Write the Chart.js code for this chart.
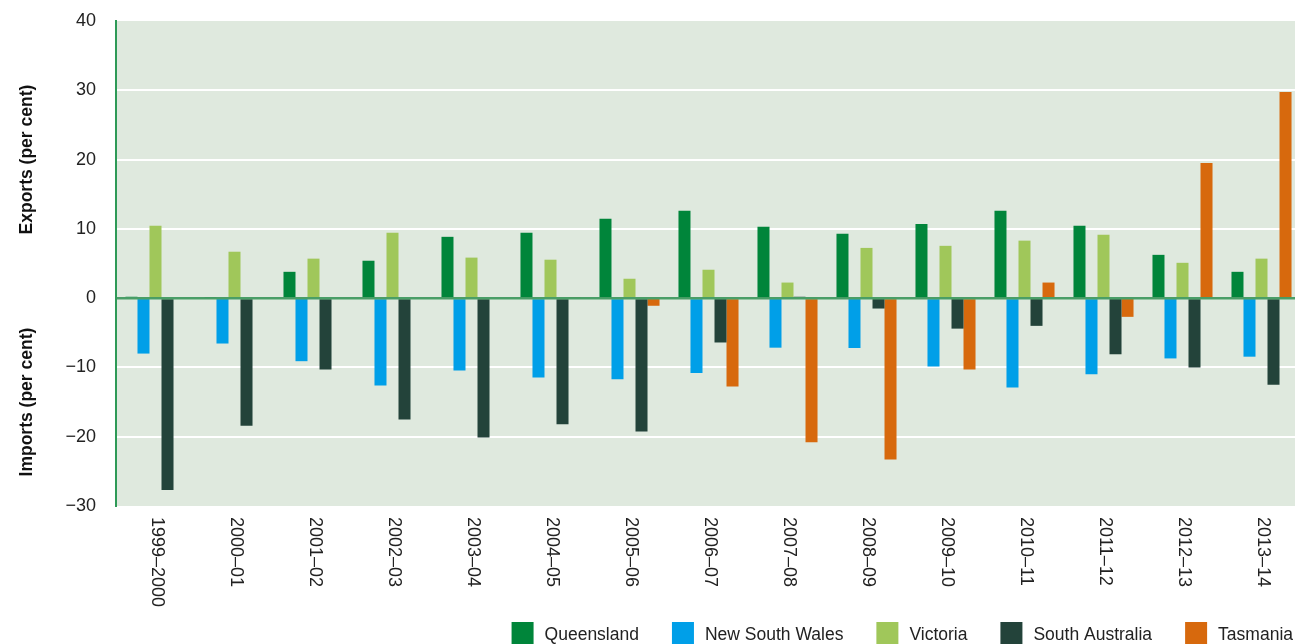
<!DOCTYPE html>
<html>
<head>
<meta charset="utf-8">
<script src="https://cdn.jsdelivr.net/npm/chart.js@4"></script>
<style>
    html, body { margin: 0; padding: 0; overflow: hidden; background: #fff; }
    #wrap { position: absolute; left: 0; top: 0; width: 1302px; height: 654px; }
</style>
</head>
<body>
<div id="wrap"><canvas id="chart"></canvas></div>
<script>
const years = ['1999\u20132000', '2000\u201301', '2001\u201302', '2002\u201303', '2003\u201304', '2004\u201305', '2005\u201306',
    '2006\u201307', '2007\u201308', '2008\u201309', '2009\u201310', '2010\u201311', '2011\u201312', '2012\u201313', '2013\u201314'];

const queensland = [0.2, 0.1, 3.8, 5.4, 8.85, 9.45, 11.45, 12.6, 10.3, 9.3, 10.7, 12.6, 10.45, 6.25, 3.8];
const newSouthWales = [-8.0, -6.55, -9.1, -12.6, -10.45, -11.45, -11.7, -10.8, -7.15, -7.2, -9.85, -12.9, -11.0, -8.7, -8.45];
const victoria = [10.45, 6.7, 5.7, 9.45, 5.85, 5.55, 2.8, 4.1, 2.25, 7.25, 7.55, 8.3, 9.15, 5.1, 5.7];
const southAustralia = [-27.7, -18.4, -10.3, -17.5, -20.1, -18.2, -19.25, -6.4, 0.2, -1.5, -4.4, -4.0, -8.1, -10.0, -12.5];
const tasmania = [0, 0, 0, 0, 0, 0.1, -1.1, -12.75, -20.8, -23.3, -10.3, 2.25, -2.7, 19.5, 29.75];

const yTicks = [-30, -20, -10, 0, 10, 20, 30, 40];
const exportsTitle = 'Exports (per cent)';
const importsTitle = 'Imports (per cent)';

const FONT = '"Liberation Sans", Arial, sans-serif';

// plot background, zero line, rotated year labels, y titles and the legend
const decorations = {
    id: 'decorations',
    beforeDraw(chart) {
        const { ctx, chartArea: a } = chart;
        ctx.save();
        ctx.fillStyle = '#dfe9de';
        ctx.fillRect(a.left, a.top, a.right - a.left, a.bottom - a.top);
        ctx.restore();
    },
    afterDatasetsDraw(chart) {
        const { ctx, chartArea: a, scales } = chart;
        const y0 = scales.y.getPixelForValue(0);
        ctx.save();
        ctx.strokeStyle = 'rgba(58, 150, 90, 0.9)';
        ctx.lineWidth = 2.5;
        ctx.beginPath();
        ctx.moveTo(a.left, y0);
        ctx.lineTo(a.right, y0);
        ctx.stroke();
        ctx.restore();
    },
    afterDraw(chart) {
        const { ctx, chartArea: a, scales } = chart;
        ctx.save();
        ctx.fillStyle = '#222';
        ctx.font = '18px ' + FONT;
        ctx.textAlign = 'left';
        ctx.textBaseline = 'middle';
        years.forEach((label, i) => {
            ctx.save();
            ctx.translate(scales.x.getPixelForValue(i) + 1, a.bottom + 11);
            ctx.rotate(Math.PI / 2);
            ctx.fillText(label, 0, 0);
            ctx.restore();
        });

        ctx.fillStyle = '#111';
        ctx.font = 'bold 17.5px ' + FONT;
        ctx.textAlign = 'center';
        [[exportsTitle, 20], [importsTitle, -15]].forEach(([text, v]) => {
            ctx.save();
            ctx.translate(27, scales.y.getPixelForValue(v));
            ctx.rotate(-Math.PI / 2);
            ctx.fillText(text, 0, 0);
            ctx.restore();
        });

        // legend, right aligned along the bottom
        ctx.font = '17.5px ' + FONT;
        ctx.textAlign = 'left';
        const box = 22, gap = 11, itemGap = 33;
        const items = chart.data.datasets.map(ds => ({ ds, w: ctx.measureText(ds.label).width }));
        let x = 1293 - items.reduce((s, it) => s + box + gap + it.w, 0) - itemGap * (items.length - 1);
        items.forEach(({ ds, w }) => {
            ctx.fillStyle = ds.backgroundColor;
            ctx.fillRect(x, 622, box, box);
            ctx.fillStyle = '#222';
            ctx.fillText(ds.label, x + box + gap, 635);
            x += box + gap + w + itemGap;
        });
        ctx.restore();
    }
};

const series = [
    { label: 'Queensland', data: queensland, color: '#00853a' },
    { label: 'New South Wales', data: newSouthWales, color: '#009fe8' },
    { label: 'Victoria', data: victoria, color: '#a0c75a' },
    { label: 'South Australia', data: southAustralia, color: '#23433a' },
    { label: 'Tasmania', data: tasmania, color: '#d7690d' }
];

new Chart(document.getElementById('chart'), {
    type: 'bar',
    data: {
        labels: years,
        datasets: series.map(s => ({
            label: s.label,
            data: s.data,
            backgroundColor: s.color,
            borderWidth: 0,
            barPercentage: 1,
            categoryPercentage: 0.76
        }))
    },
    options: {
        responsive: true,
        maintainAspectRatio: false,
        animation: false,
        layout: { padding: { top: 21, right: 1, left: 0, bottom: 0 } },
        plugins: {
            tooltip: { enabled: false },
            legend: { display: false }
        },
        scales: {
            x: {
                grid: { display: false },
                border: { display: false },
                ticks: { display: false },
                afterFit(scale) { scale.height = 148; }
            },
            y: {
                min: -30,
                max: 40,
                afterBuildTicks(scale) { scale.ticks = yTicks.map(v => ({ value: v })); },
                afterFit(scale) {
                    scale.width = 116;
                    scale.paddingTop = 0;
                    scale.paddingBottom = 0;
                },
                grid: {
                    drawTicks: false,
                    lineWidth: 2,
                    color: ctx => (ctx.tick && [10, 20, 30, -10, -20].includes(ctx.tick.value)) ? '#ffffff' : 'rgba(0,0,0,0)'
                },
                border: { color: '#2e9a57', width: 2 },
                ticks: {
                    padding: 20,
                    color: '#222',
                    font: { family: FONT, size: 18 },
                    callback: v => v < 0 ? '\u2212' + Math.abs(v) : String(v)
                }
            }
        }
    },
    plugins: [decorations]
});
</script>
</body>
</html>
